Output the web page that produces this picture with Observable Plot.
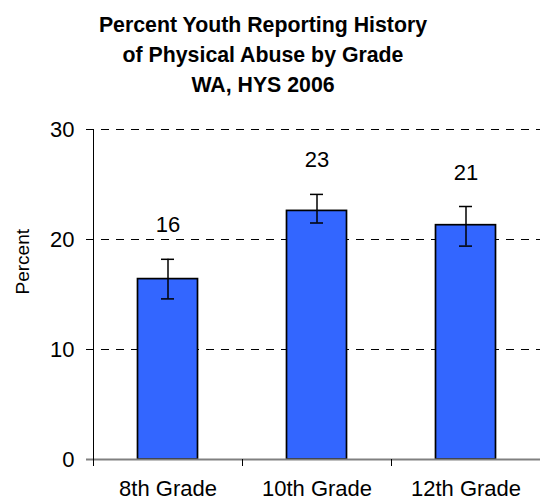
<!DOCTYPE html>
<html><head><meta charset="utf-8">
<script src="https://cdn.jsdelivr.net/npm/d3@7"></script>
<script src="https://cdn.jsdelivr.net/npm/@observablehq/plot@0.6"></script>
<style>
body{margin:0;background:#fff;font-family:"Liberation Sans",Arial,sans-serif;}
#title{width:526px;padding-top:10px;height:90px;text-align:center;font-weight:bold;font-size:21.3px;line-height:30px;color:#000;}
</style></head><body>
<div id="title">Percent Youth Reporting History<br>of Physical Abuse by Grade<br>WA, HYS 2006</div>
<div id="chart"></div>
<script>
const grades = ["8th Grade", "10th Grade", "12th Grade"];
const values = [16.4, 22.6, 21.3];
const lower = [14.6, 21.5, 19.4];
const upper = [18.2, 24.1, 23.0];
const labels = ["16", "23", "21"];
const yTicks = [0, 10, 20, 30];
const gridLines = [10, 20, 30];

const data = grades.map((g, i) => ({grade: g, value: values[i], lo: lower[i], hi: upper[i], label: labels[i]}));
const W = 540, H = 402, mL = 93, mR = 0;
const bw = (W - mL - mR) / grades.length;
const capInset = (bw - 13) / 2;
const barInset = (bw - 60) / 2;

const chart = Plot.plot({
  width: W, height: H,
  marginLeft: mL, marginRight: mR, marginTop: 29, marginBottom: 43,
  style: {fontFamily: "'Liberation Sans', Arial, sans-serif", fontSize: "22px", color: "black", background: "white", overflow: "visible"},
  x: {domain: grades, padding: 0, label: null},
  y: {domain: [0, 30], label: null},
  marks: [
    Plot.ruleY(gridLines, {stroke: "black", strokeWidth: 1, strokeDasharray: "8,7", insetLeft: -7}),
    Plot.axisY({ticks: yTicks, tickSize: 7, tickPadding: 12, fontSize: 22, label: null, stroke: "black"}),
    Plot.barY(data, {x: "grade", y: "value", fill: "#3366FF", stroke: "black", strokeWidth: 1.7, insetLeft: barInset, insetRight: barInset}),
    Plot.ruleY([0], {stroke: "#808080", strokeWidth: 2, insetLeft: -7}),
    Plot.ruleX([grades[0]], {x: d => d, dx: -bw / 2, y1: 0, y2: 30, stroke: "black"}),
    Plot.axisX({tickSize: 7, dx: -bw / 2, tickFormat: () => "", label: null, stroke: "black"}),
    Plot.axisX({tickSize: 0, tickPadding: 21, fontSize: 22, label: null}),
    Plot.ruleX(data, {x: "grade", y1: "lo", y2: "hi", stroke: "black", strokeWidth: 1.5}),
    Plot.tickY(data, {x: "grade", y: "lo", stroke: "black", strokeWidth: 1.5, insetLeft: capInset, insetRight: capInset}),
    Plot.tickY(data, {x: "grade", y: "hi", stroke: "black", strokeWidth: 1.5, insetLeft: capInset, insetRight: capInset}),
    Plot.text(data, {x: "grade", y: "hi", text: "label", dy: -34, fontSize: 22, fill: "black"}),
    Plot.text(["Percent"], {frameAnchor: "left", dx: -71, rotate: -90, fontSize: 19, fill: "black"})
  ]
});
document.getElementById("chart").appendChild(chart);
</script>
</body></html>
